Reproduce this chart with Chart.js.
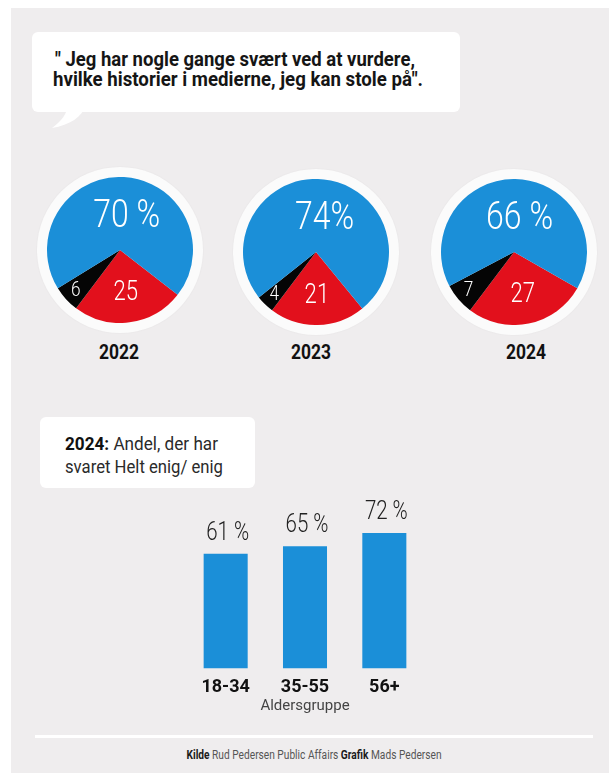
<!DOCTYPE html>
<html>
<head>
<meta charset="utf-8">
<script src="https://cdn.jsdelivr.net/npm/chart.js"></script>
<style>
  html, body { margin: 0; padding: 0; width: 609px; height: 773px; overflow: hidden; background: #fff; font-family: Roboto, "Noto Sans", sans-serif; }
  #page { position: absolute; left: 11px; top: 8px; width: 598px; height: 765px; background: #efedee; }
  .abs { position: absolute; }
  .txt { position: absolute; white-space: nowrap; display: inline-block; }
  .box { position: absolute; background: #fff; border-radius: 6px; }
  .ring { position: absolute; width: 166px; height: 166px; border-radius: 50%; background: #fbfbfb; box-shadow: 0 0 2px rgba(0,0,0,0.05); }
  .pie { position: absolute; width: 146px; height: 146px; }
</style>
</head>
<body>
<div id="page"></div>

<!-- speech bubble -->
<div class="box" style="left:32px;top:32px;width:428px;height:80px;"></div>
<svg class="abs" style="left:40px;top:105px" width="60" height="30">
  <path d="M 28 0 L 46 0 C 42 12 30 20 12 23 C 22 16 27 8 28 0 Z" fill="#fff"/>
</svg>
<div class="txt" id="q1" data-w="360" style="left:55px;top:49px;font:700 21px/20px Roboto;color:#151515;">" Jeg har nogle gange svært ved at vurdere,</div>
<div class="txt" id="q2" data-w="370" style="left:53px;top:69px;font:700 21px/20px Roboto;color:#151515;">hvilke historier i medierne, jeg kan stole på".</div>

<!-- pies -->
<div class="ring" style="left:37px;top:167px"></div>
<div class="ring" style="left:233px;top:169px"></div>
<div class="ring" style="left:431px;top:169px"></div>
<div class="pie" style="left:47px;top:177px"><canvas id="pie0"></canvas></div>
<div class="pie" style="left:243px;top:179px"><canvas id="pie1"></canvas></div>
<div class="pie" style="left:441px;top:179px"><canvas id="pie2"></canvas></div>

<div class="txt yr" data-w="40" data-c="119" style="top:341px;font:700 21px/22px Roboto;color:#111;"></div>
<div class="txt yr" data-w="40" data-c="311" style="top:341px;font:700 21px/22px Roboto;color:#111;"></div>
<div class="txt yr" data-w="40" data-c="526" style="top:341px;font:700 21px/22px Roboto;color:#111;"></div>

<!-- bar section -->
<div class="box" style="left:40px;top:417px;width:215px;height:71px;"></div>
<div class="txt" id="b1" data-w="153" style="left:65px;top:434px;font:400 18px/20px Roboto;color:#2a2a2a;"><b style="color:#111">2024:</b> Andel, der har</div>
<div class="txt" id="b2" data-w="158" style="left:65px;top:457px;font:400 18px/20px Roboto;color:#2a2a2a;">svaret Helt enig/ enig</div>

<div class="abs" style="left:160px;top:490px;width:300px;height:227px"><canvas id="bars"></canvas></div>

<!-- footer -->
<div class="abs" style="left:35px;top:735px;width:558px;height:3px;background:#fff"></div>
<div class="txt" id="foot" data-w="255" data-c="314" style="top:748px;font:400 12px/14px Roboto;color:#555;"><b style="color:#1a1a1a">Kilde</b> Rud Pedersen Public Affairs <b style="color:#1a1a1a">Grafik</b> Mads Pedersen</div>

<script>
const years = ['2022', '2023', '2024'];
const enig = [70, 74, 66];
const uenig = [25, 21, 27];
const vedIkke = [6, 4, 7];
const enigTekst = ['70 %', '74%', '66 %'];

const aldersgrupper = ['18-34', '35-55', '56+'];
const andelEnig = [61, 65, 72];
const andelTekst = ['61 %', '65 %', '72 %'];

const BLUE = '#1b8fd8';
const RED = '#e2101c';

// squeeze a text element horizontally to the measured width in the picture
function fit(el) {
  const target = +el.dataset.w;
  const w = el.getBoundingClientRect().width;
  const s = target / w;
  el.style.transformOrigin = '0 0';
  if (el.dataset.c) {
    el.style.left = el.dataset.c + 'px';
    el.style.transform = `translateX(${-target / 2}px) scaleX(${s})`;
  } else {
    el.style.transform = `scaleX(${s})`;
  }
}

document.querySelectorAll('.yr').forEach((el, i) => { el.textContent = years[i]; });
['q1', 'q2', 'b1', 'b2', 'foot'].forEach(id => fit(document.getElementById(id)));
document.querySelectorAll('.yr').forEach(fit);

const pieLabels = {
  id: 'pieLabels',
  afterDatasetsDraw(chart, args, opts) {
    const ctx = chart.ctx;
    chart.getDatasetMeta(0).data.forEach((arc, i) => {
      const p = arc.getProps(['x', 'y', 'startAngle', 'endAngle', 'outerRadius']);
      const mid = (p.startAngle + p.endAngle) / 2;
      const r = p.outerRadius * opts.dist[i];
      ctx.save();
      ctx.translate(p.x + Math.cos(mid) * r + opts.dx[i], p.y + Math.sin(mid) * r);
      ctx.scale(0.82, 1);
      ctx.font = `300 ${opts.size[i]}px Roboto`;
      ctx.fillStyle = '#fff';
      ctx.textAlign = 'center';
      ctx.textBaseline = 'middle';
      ctx.fillText(opts.text[i], 0, 0);
      ctx.restore();
    });
  }
};

years.forEach((y, i) => {
  const total = uenig[i] + vedIkke[i] + enig[i];
  // red/black boundary sits at about 127 degrees (clockwise from 3 o'clock)
  const rotation = 217 - uenig[i] / total * 360;
  new Chart(document.getElementById('pie' + i), {
    type: 'pie',
    data: {
      labels: ['Uenig', 'Ved ikke', 'Enig'],
      datasets: [{
        data: [uenig[i], vedIkke[i], enig[i]],
        backgroundColor: [RED, '#050505', BLUE],
        borderWidth: 0
      }]
    },
    options: {
      animation: false,
      responsive: true,
      maintainAspectRatio: false,
      rotation: rotation,
      layout: { padding: 0 },
      plugins: {
        legend: { display: false },
        tooltip: { enabled: false },
        pieLabels: {
          text: [String(uenig[i]), String(vedIkke[i]), enigTekst[i]],
          dist: [0.6, 0.82, 0.45],
          size: [27, 21, 39],
          dx: [0, 0, 5]
        }
      }
    },
    plugins: [pieLabels]
  });
});

const barLabels = {
  id: 'barLabels',
  afterDatasetsDraw(chart, args, opts) {
    const ctx = chart.ctx;
    chart.getDatasetMeta(0).data.forEach((bar, i) => {
      ctx.save();
      ctx.translate(bar.x + 2, bar.y - 20);
      ctx.scale(0.82, 1);
      ctx.font = '300 25px Roboto';
      ctx.fillStyle = '#222';
      ctx.textAlign = 'center';
      ctx.textBaseline = 'middle';
      ctx.fillText(opts.text[i], 0, 0);
      ctx.restore();
    });
  }
};

new Chart(document.getElementById('bars'), {
  type: 'bar',
  data: {
    labels: aldersgrupper,
    datasets: [{
      data: andelEnig,
      backgroundColor: BLUE,
      barPercentage: 1,
      categoryPercentage: 0.555
    }]
  },
  options: {
    animation: false,
    responsive: true,
    maintainAspectRatio: false,
    layout: { padding: { left: 26, right: 36, top: 28, bottom: 0 } },
    plugins: {
      legend: { display: false },
      tooltip: { enabled: false },
      barLabels: { text: andelTekst }
    },
    scales: {
      x: {
        grid: { display: false, drawTicks: false },
        border: { display: false },
        ticks: { color: '#111', padding: 8, font: { family: 'Roboto', weight: 'bold', size: 18 } },
        title: {
          display: true,
          text: 'Aldersgruppe',
          color: '#444',
          font: { family: 'Roboto', size: 15 },
          padding: { top: -9, bottom: 2 }
        }
      },
      y: { display: false, min: 0, max: 80 }
    }
  },
  plugins: [barLabels]
});
</script>
</body>
</html>
